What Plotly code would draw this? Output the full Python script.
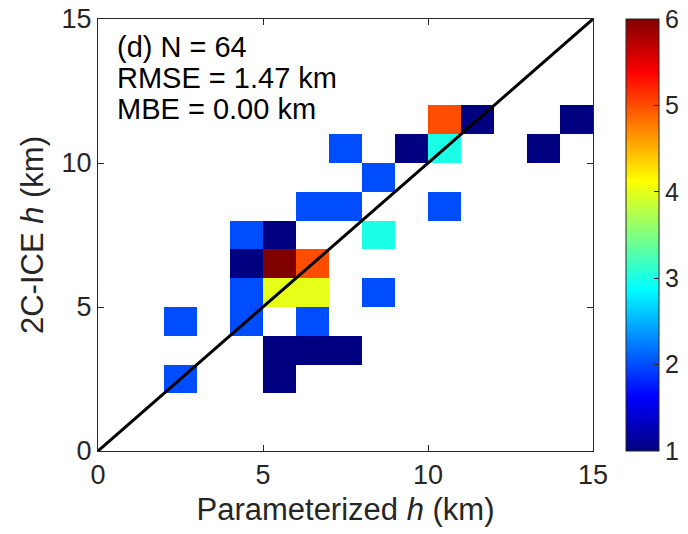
import numpy as np
import plotly.graph_objects as go

# 2-D histogram of cloud height: parameterized vs 2C-ICE, 1 km bins (lower bin edges, km)
param_bin = [2, 2, 4, 4, 4, 4, 5, 5, 6, 7, 5, 6, 5, 6, 5, 6, 6, 7, 7, 8, 8, 8, 9, 10, 10, 10, 11, 13, 14]
ice_bin   = [2, 4, 4, 5, 6, 7, 2, 3, 3, 3, 5, 5, 6, 6, 7, 4, 8, 8, 10, 5, 7, 9, 10, 8, 10, 11, 11, 10, 11]
counts    = [2, 2, 2, 2, 1, 2, 1, 1, 1, 1, 4, 4, 6, 5, 1, 2, 2, 2, 2, 2, 3, 2, 1, 2, 3, 5, 1, 1, 1]

bin_edges = list(range(0, 16))
stat_lines = ["(d) N = 64", "RMSE = 1.47 km", "MBE = 0.00 km"]
cbar_ticks = [1, 2, 3, 4, 5, 6]
axis_ticks = [0, 5, 10, 15]

nb = len(bin_edges) - 1
centers = [(bin_edges[i] + bin_edges[i + 1]) / 2 for i in range(nb)]
z = np.full((nb, nb), np.nan)
for xb, yb, c in zip(param_bin, ice_bin, counts):
    z[yb, xb] = c

# MATLAB-style jet colormap
jet = [
    [0.0, "rgb(0,0,128)"],
    [0.125, "rgb(0,0,255)"],
    [0.375, "rgb(0,255,255)"],
    [0.625, "rgb(255,255,0)"],
    [0.875, "rgb(255,0,0)"],
    [1.0, "rgb(128,0,0)"],
]

FONT = "Liberation Sans, Arial, Helvetica, sans-serif"
INK = "#262626"

fig = go.Figure()
fig.add_trace(go.Heatmap(
    x=centers, y=centers, z=z,
    colorscale=jet, zmin=1, zmax=6,
    hoverongaps=False,
    colorbar=dict(
        x=1.0667, xanchor="left", xref="paper",
        y=0.5, yanchor="middle", len=1, lenmode="fraction",
        thickness=33, xpad=0, ypad=0,
        outlinewidth=1, outlinecolor=INK,
        tickvals=cbar_ticks, ticks="inside", ticklen=5, tickcolor=INK,
        tickfont=dict(family=FONT, size=25, color=INK),
    ),
))

# 1:1 reference line
fig.add_trace(go.Scatter(
    x=[axis_ticks[0], axis_ticks[-1]], y=[axis_ticks[0], axis_ticks[-1]],
    mode="lines", line=dict(color="black", width=3), hoverinfo="skip",
    showlegend=False,
))

for i, txt in enumerate(stat_lines):
    fig.add_annotation(
        x=0.5, y=14.03 - 1.08 * i, xref="x", yref="y",
        text=txt, showarrow=False, xanchor="left", yanchor="middle",
        font=dict(family=FONT, size=29, color="black"),
    )

axis_common = dict(
    range=[0, 15], tickvals=axis_ticks, ticks="inside", ticklen=6,
    tickcolor=INK, showline=True, linecolor=INK, linewidth=1, mirror="ticks",
    showgrid=False, zeroline=False,
    tickfont=dict(family=FONT, size=27, color=INK),
)

fig.update_layout(
    width=688, height=534,
    margin=dict(l=98, r=95, t=19, b=83, autoexpand=False),
    paper_bgcolor="white", plot_bgcolor="white",
    xaxis=dict(**axis_common,
               title=dict(text="Parameterized <i>h</i> (km)", standoff=8,
                          font=dict(family=FONT, size=31, color=INK))),
    yaxis=dict(**axis_common,
               title=dict(text="2C-ICE <i>h</i> (km)", standoff=8,
                          font=dict(family=FONT, size=31, color=INK))),
    showlegend=False,
)

fig.write_html("out.html")
